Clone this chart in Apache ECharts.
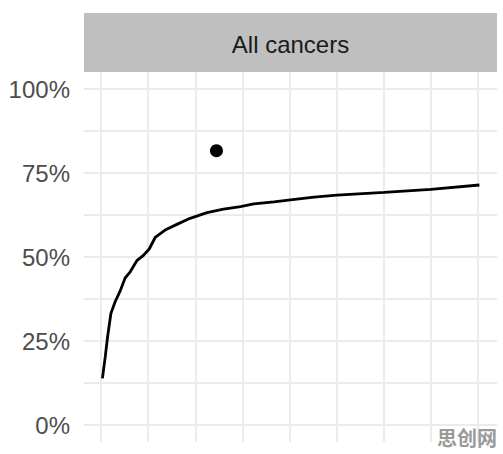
<!DOCTYPE html>
<html>
<head>
<meta charset="utf-8">
<style>
  html, body { margin: 0; padding: 0; background: #fff; }
  #chart { width: 503px; height: 454px; }
</style>
<script src="https://cdn.jsdelivr.net/npm/echarts@6/dist/echarts.min.js"></script>
</head>
<body>
<div id="chart"></div>
<script>
// 曲线数据（横轴位置、纵轴百分比）
var curveX = [0.03, 0.09, 0.14, 0.21, 0.30, 0.40, 0.51, 0.62, 0.76, 0.90, 1.02, 1.15, 1.36, 1.61, 1.89, 2.25, 2.60, 2.96, 3.24, 3.67, 4.02, 4.52, 5.01, 6.01, 7.00, 8.03];
var curveY = [13.9, 20.3, 26.3, 33.2, 36.7, 39.7, 43.7, 45.6, 48.9, 50.5, 52.3, 55.8, 58.0, 59.7, 61.5, 63.2, 64.2, 65.0, 65.8, 66.4, 67.0, 67.8, 68.4, 69.2, 70.1, 71.4];
// 单独的点
var pointX = [2.45];
var pointY = [81.6];
var yTicks = [0, 25, 50, 75, 100];
var panelTitle = 'All cancers';

var myChart = echarts.init(document.getElementById('chart'), null, { renderer: 'svg' });

var option = {
  backgroundColor: '#fff',
  animation: false,
  grid: [
    // 数据区域（含上下扩展）
    { left: 101, right: 25, top: 72, bottom: 12 },
    // 横向网格线和纵轴标签
    { left: 84, right: 6, top: 89, bottom: 29 }
  ],
  xAxis: [
    {
      gridIndex: 0, type: 'value', min: 0, max: 8, interval: 1,
      axisLine: { show: false }, axisTick: { show: false }, axisLabel: { show: false },
      splitLine: { show: true, lineStyle: { color: '#ebebeb', width: 2 } }
    },
    {
      gridIndex: 1, type: 'value', min: 0, max: 1, show: false
    }
  ],
  yAxis: [
    {
      gridIndex: 0, type: 'value', min: -5, max: 105, show: false
    },
    {
      gridIndex: 1, type: 'value', min: 0, max: 100, interval: 12.5,
      axisLine: { show: false }, axisTick: { show: false },
      axisLabel: {
        margin: 14, color: '#4d4d4d', fontSize: 24, fontFamily: 'Liberation Sans',
        formatter: function (v) { return yTicks.indexOf(v) >= 0 ? v + '%' : ''; }
      },
      splitLine: { show: true, lineStyle: { color: '#ebebeb', width: 2 } }
    }
  ],
  graphic: [
    {
      type: 'rect', left: 84, top: 13, z: 10,
      shape: { width: 413, height: 59 },
      style: { fill: '#bfbfbf' }
    },
    {
      type: 'text', x: 290.5, y: 44, z: 11,
      style: {
        text: panelTitle, fill: '#1a1a1a', fontSize: 24, fontFamily: 'Liberation Sans',
        textAlign: 'center', textVerticalAlign: 'middle'
      }
    },
    {
      type: 'text', x: 467, y: 437, z: 11,
      style: {
        text: '思创网', fill: '#9a9a9a', fontSize: 20, fontWeight: 'bold',
        fontFamily: 'Noto Sans CJK SC', textAlign: 'center', textVerticalAlign: 'middle'
      }
    }
  ],
  series: [
    {
      type: 'line',
      xAxisIndex: 0, yAxisIndex: 0,
      data: curveX.map(function (x, i) { return [x, curveY[i]]; }),
      showSymbol: false,
      lineStyle: { color: '#000', width: 2.8 },
      z: 5
    },
    {
      type: 'scatter',
      xAxisIndex: 0, yAxisIndex: 0,
      data: pointX.map(function (x, i) { return [x, pointY[i]]; }),
      symbolSize: 13,
      itemStyle: { color: '#000', opacity: 1 },
      z: 6
    }
  ]
};

myChart.setOption(option);
</script>
</body>
</html>
